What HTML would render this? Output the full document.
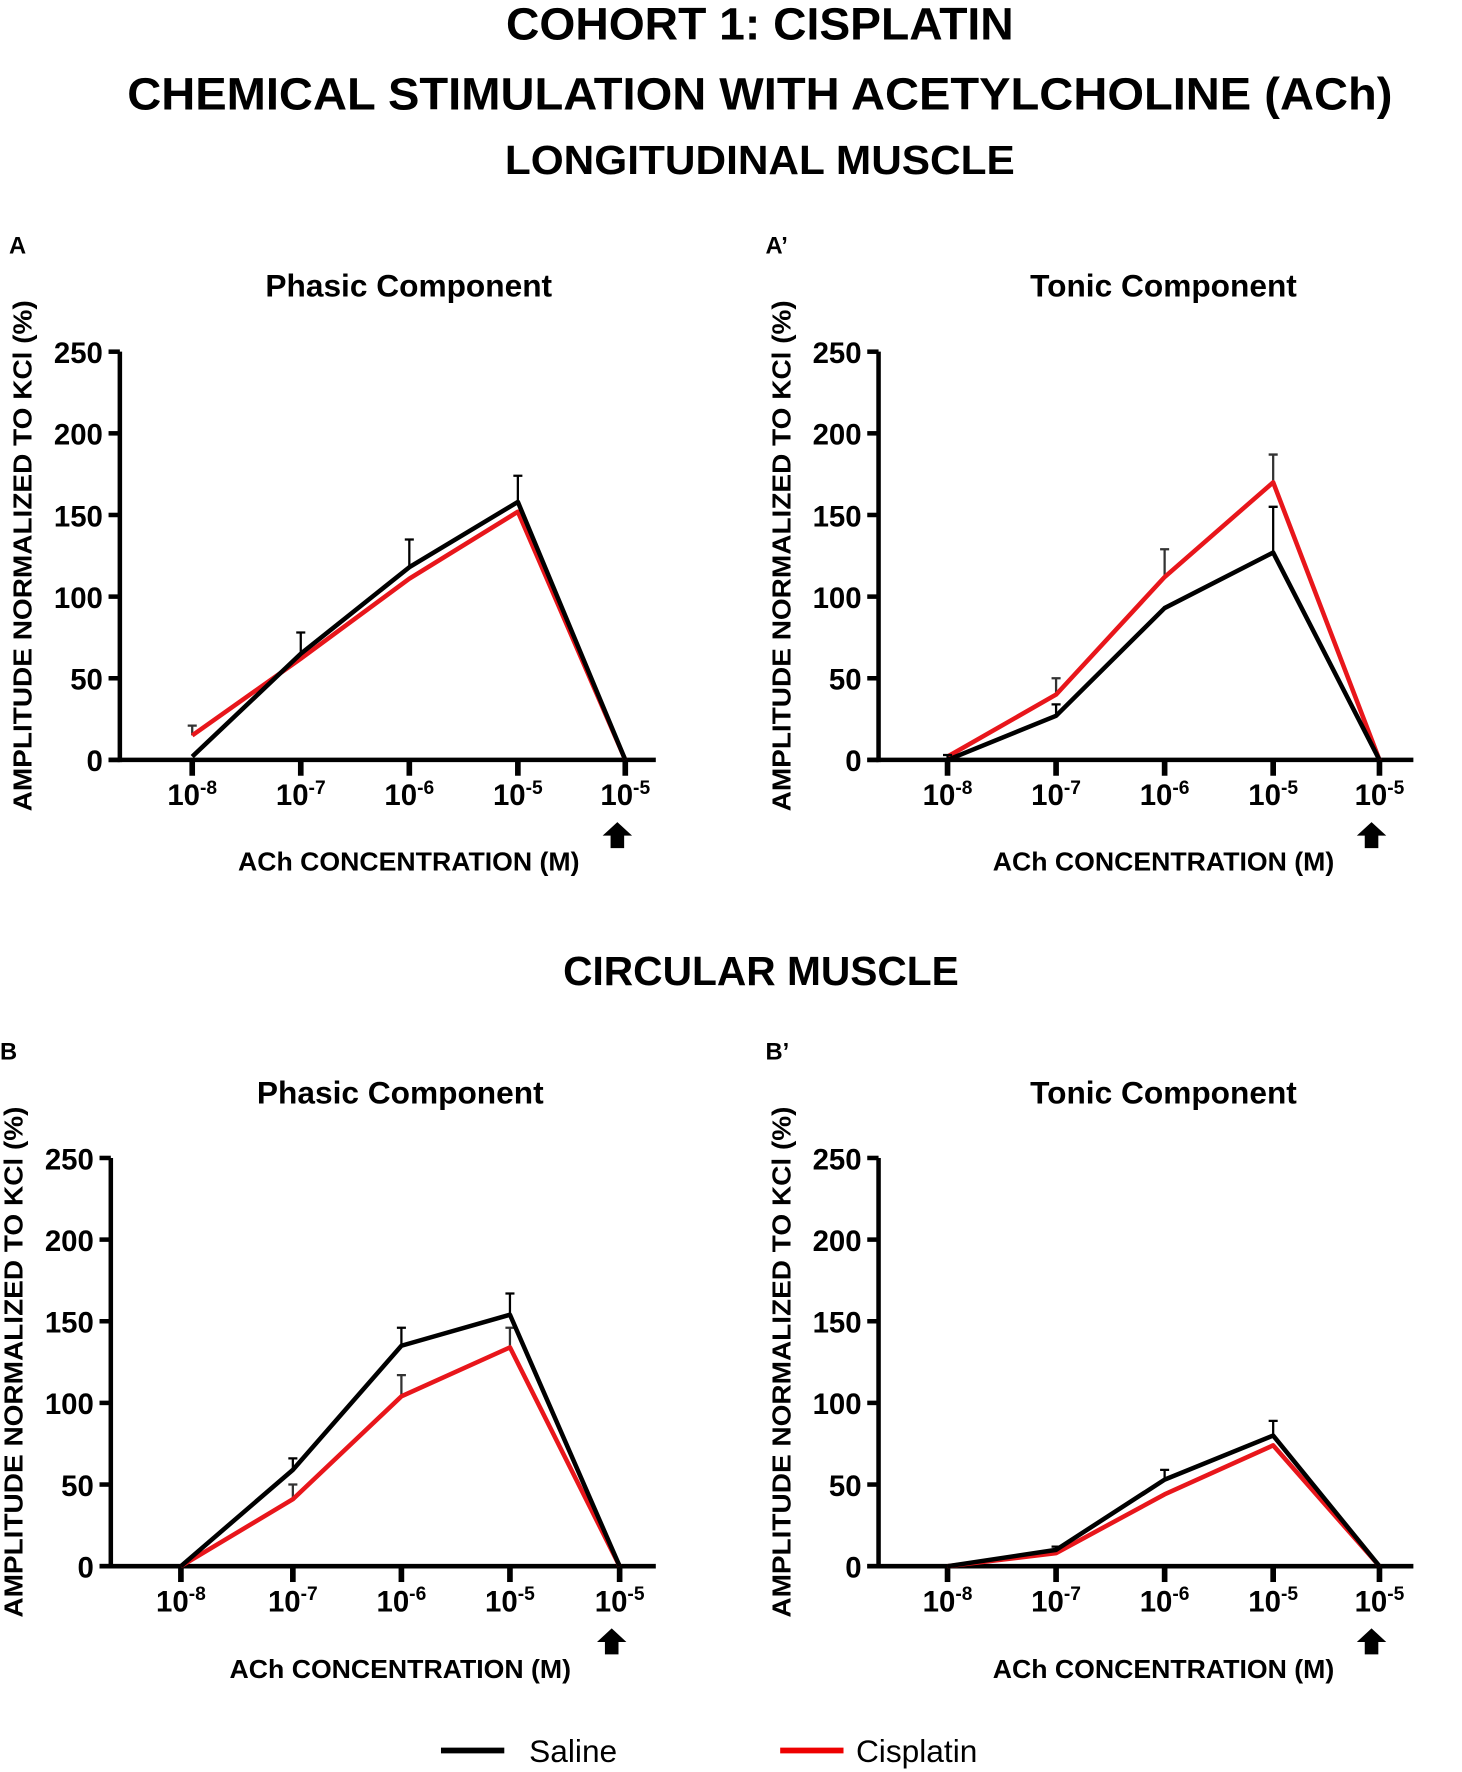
<!DOCTYPE html>
<html><head><meta charset="utf-8"><style>
html,body{margin:0;padding:0;background:#fff;}
svg{display:block;}
text{font-family:"Liberation Sans",sans-serif;}
.n{font-family:"Liberation Sans Narrow","Liberation Sans",sans-serif;font-weight:bold;}
</style></head><body>
<svg id="fig" width="1462" height="1772" viewBox="0 0 1293 1567" preserveAspectRatio="none">
<text x="672" y="35" text-anchor="middle" font-size="40" font-weight="bold" textLength="449" lengthAdjust="spacingAndGlyphs">COHORT 1: CISPLATIN</text>
<text x="672" y="97" text-anchor="middle" font-size="40" font-weight="bold" textLength="1119" lengthAdjust="spacingAndGlyphs">CHEMICAL STIMULATION WITH ACETYLCHOLINE (ACh)</text>
<text x="672" y="154" text-anchor="middle" font-size="36" font-weight="bold" textLength="451" lengthAdjust="spacingAndGlyphs">LONGITUDINAL MUSCLE</text>
<text x="673" y="871" text-anchor="middle" font-size="36" font-weight="bold" textLength="350" lengthAdjust="spacingAndGlyphs">CIRCULAR MUSCLE</text>
<g>
<line x1="390" y1="1548" x2="446" y2="1548" stroke="#000" stroke-width="5"/>
<text x="468" y="1558" font-size="28">Saline</text>
<line x1="690" y1="1548" x2="746" y2="1548" stroke="#e00" stroke-width="5"/>
<text x="757" y="1558" font-size="28">Cisplatin</text>
</g>
<g id="panels"></g>
</svg>
<script>
const categories = ["10^-8","10^-7","10^-6","10^-5","10^-5"];
const yTicks = [0,50,100,150,200,250];
const salineA = [2,65,118,158,0];
const salineAErr = [0,13,17,16,0];
const cisA = [15,62,111,152,0];
const cisAErr = [6,0,0,0,0];
const salineA2 = [0,27,93,127,0];
const salineA2Err = [3,7,0,28,0];
const cisA2 = [2,40,112,170,0];
const cisA2Err = [0,10,17,17,0];
const salineB = [0,59,135,154,0];
const salineBErr = [0,7,11,13,0];
const cisB = [0,41,104,134,0];
const cisBErr = [0,9,13,12,0];
const salineB2 = [0,10,53,80,0];
const salineB2Err = [0,2,6,9,0];
const cisB2 = [0,8,44,74,0];
const cisB2Err = [0,0,0,0,0];

const NS="http://www.w3.org/2000/svg";
const root=document.getElementById('panels');
function mk(tag,attrs,parent){const e=document.createElementNS(NS,tag);for(const k in attrs)e.setAttribute(k,attrs[k]);parent.appendChild(e);return e;}

const panels=[
 {letter:"A",title:"Phasic Component",ax:106,top:311,zero:672,cx:[170,266,362,458,553],xend:580,s:salineA,se:salineAErr,c:cisA,ce:cisAErr,ly:224,ty:262,tlab:770,name:"panel-a"},
 {letter:"A’",title:"Tonic Component",ax:777,top:311,zero:672,cx:[838,934,1030,1126,1220],xend:1250,s:salineA2,se:salineA2Err,c:cisA2,ce:cisA2Err,ly:224,ty:262,tlab:770,name:"panel-a-prime"},
 {letter:"B",title:"Phasic Component",ax:98,top:1024,zero:1385,cx:[160,259,355,451,548],xend:580,s:salineB,se:salineBErr,c:cisB,ce:cisBErr,ly:937,ty:976,tlab:1484,name:"panel-b"},
 {letter:"B’",title:"Tonic Component",ax:777,top:1024,zero:1385,cx:[838,934,1030,1126,1220],xend:1250,s:salineB2,se:salineB2Err,c:cisB2,ce:cisB2Err,ly:937,ty:976,tlab:1484,name:"panel-b-prime"}
];

panels.forEach(p=>{
 const g=mk('g',{},root);
 
 
 const y=v=>p.zero-(v/250)*(p.zero-p.top);
 const cxm=(p.cx[0]+p.cx[4])/2;
 const L=mk('text',{x:p.letter.length>1?p.ax-100:p.ax-98,y:p.ly,'font-size':21,'font-weight':'bold'},g);L.textContent=p.letter;
 
 
 const T=mk('text',{x:cxm,y:p.ty,'text-anchor':'middle','font-size':28,'font-weight':'bold'},g);T.textContent=p.title;
 
 
 const ya=mk('line',{x1:p.ax,y1:p.top,x2:p.ax,y2:p.zero+2,stroke:'#000','stroke-width':4},g);
 
 
 const xa=mk('line',{x1:p.ax-10,y1:p.zero,x2:p.xend,y2:p.zero,stroke:'#000','stroke-width':4},g);
 
 
 yTicks.forEach(t=>{
  const tl=mk('line',{x1:p.ax-10,y1:y(t),x2:p.ax,y2:y(t),stroke:'#000','stroke-width':4},g);
  
  
  const tx=mk('text',{x:p.ax-15,y:y(t)+10,'text-anchor':'end','font-size':26,class:'n'},g);tx.textContent=t;
  
  
 });
 categories.forEach((c,i)=>{
  const x=p.cx[i];
  const tl=mk('line',{x1:x,y1:p.zero,x2:x,y2:p.zero+14,stroke:'#000','stroke-width':5},g);
  
  
  const parts=c.split('^');
  const tx=mk('text',{x:x,y:p.zero+40,'text-anchor':'middle','font-size':26,class:'n'},g);
  
  
  const t1=mk('tspan',{},tx);t1.textContent=parts[0];
  const t2=mk('tspan',{dy:-10,'font-size':17},tx);t2.textContent=parts[1];
 });
 const ax=p.cx[4]-7,ay=p.zero+55;
 const ar=mk('path',{d:`M${ax} ${ay} l13 12 h-7 v11 h-12 v-11 h-7 z`,fill:'#000'},g);
 
 
 const xt=mk('text',{x:cxm,y:p.tlab,'text-anchor':'middle','font-size':23,class:'n',textLength:302,lengthAdjust:'spacingAndGlyphs'},g);xt.textContent="ACh CONCENTRATION (M)";
 
 
 const ylx=p.ax-78, yly=(p.top+p.zero)/2;
 const yt=mk('text',{x:ylx,y:yly,'text-anchor':'middle','font-size':23,class:'n',textLength:452,lengthAdjust:'spacingAndGlyphs',transform:`rotate(-90 ${ylx} ${yly})`},g);yt.textContent="AMPLITUDE NORMALIZED TO  KCl (%)";
 
 
 [[p.c,p.ce,'#e8161b','cisplatin'],[p.s,p.se,'#000','saline']].forEach(([vals,errs,col,nm])=>{
  errs.forEach((e,i)=>{
   if(e>0){
    const eb=mk('path',{d:`M${p.cx[i]} ${y(vals[i])} V${y(vals[i]+e)} M${p.cx[i]-4} ${y(vals[i]+e)} H${p.cx[i]+4}`,stroke:col==='#000'?'#000':'#333','stroke-width':2,fill:'none'},g);
    
    
   }
  });
  const pts=vals.map((v,i)=>p.cx[i]+','+y(v)).join(' ');
  const pl=mk('polyline',{points:pts,fill:'none',stroke:col,'stroke-width':4,'stroke-linejoin':'round'},g);
  
  
 });
});
</script>
</body></html>
